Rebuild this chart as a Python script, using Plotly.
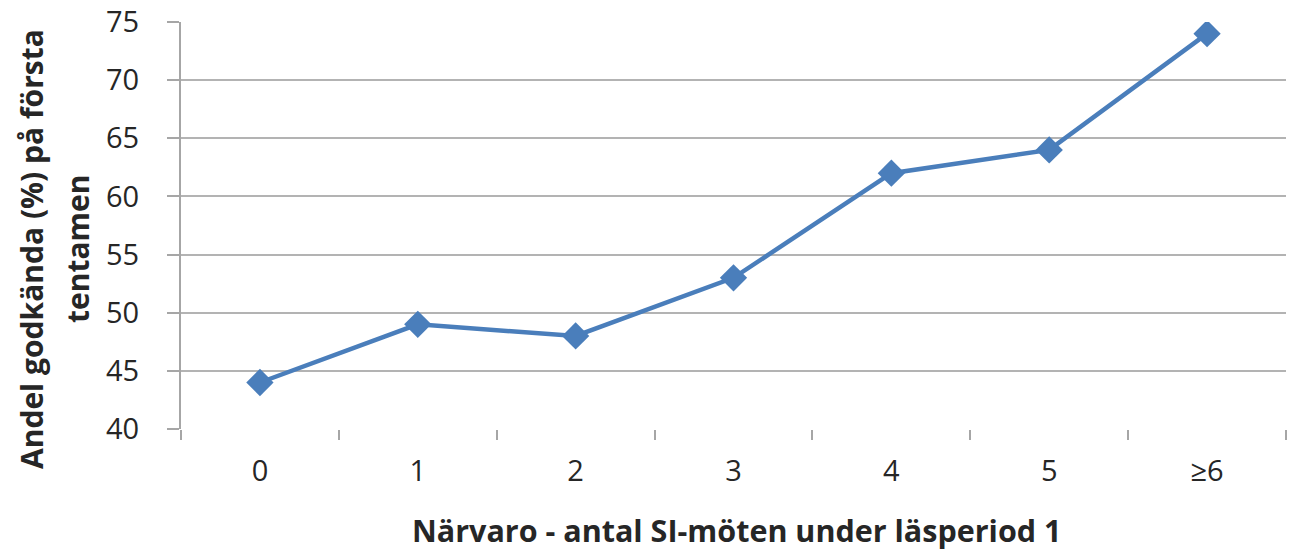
import plotly.graph_objects as go

categories = ["0", "1", "2", "3", "4", "5", "≥6"]
values = [44, 49, 48, 53, 62, 64, 74]
y_ticks = [40, 45, 50, 55, 60, 65, 70, 75]
x_title = "Närvaro - antal SI-möten under läsperiod 1"
y_title_line1 = "Andel godkända (%) på första"
y_title_line2 = "tentamen"

W, H = 1290, 551
L, R, T, B = 181, 4, 22, 122
PW, PH = W - L - R, H - T - B


def px(x_screen):
    return (x_screen - L) / PW


def py(y_screen):
    return (H - B - y_screen) / PH


fig = go.Figure()
fig.add_trace(go.Scatter(
    x=categories, y=values, mode="lines+markers",
    line=dict(color="#4A7EBB", width=4.5),
    marker=dict(symbol="diamond", size=21, color="#4A7EBB"),
    showlegend=False,
))

font_family = "Open Sans, Lato, sans-serif"
txt = "#262626"
fig.update_layout(
    width=W, height=H,
    margin=dict(l=L, r=R, t=T, b=B),
    paper_bgcolor="white", plot_bgcolor="white",
    font=dict(family=font_family, color=txt, size=24),
    xaxis=dict(
        type="category", tickson="boundaries", ticks="outside", ticklen=10,
        tickcolor="#A6A6A6", tickwidth=2, showgrid=False,
        showline=False, zeroline=False, automargin=False,
        tickfont=dict(size=29, color=txt), ticklabelstandoff=22,
        ticklabeloverflow="allow",
        range=[-0.5, 6.5],
    ),
    yaxis=dict(
        range=[40, 75], tickvals=y_ticks, ticks="outside", ticklen=12,
        tickcolor="#A6A6A6", tickwidth=2,
        showgrid=True, gridcolor="#B3B3B3", gridwidth=2,
        showline=True, linecolor="#A6A6A6", linewidth=2,
        zeroline=False, automargin=False,
        tickfont=dict(size=29, color=txt), ticklabelstandoff=22,
        ticklabeloverflow="allow",
    ),
    annotations=[
        dict(text="<b>" + x_title + "</b>", xref="paper", yref="paper",
             x=px(736), y=py(530),
             xanchor="center", yanchor="middle", showarrow=False,
             font=dict(size=30.5, color=txt)),
        dict(text="<b>" + y_title_line1 + "</b>", xref="paper", yref="paper",
             x=px(31), y=py(249),
             xanchor="center", yanchor="middle", showarrow=False,
             textangle=-90, font=dict(size=30, color=txt)),
        dict(text="<b>" + y_title_line2 + "</b>", xref="paper", yref="paper",
             x=px(77), y=py(249),
             xanchor="center", yanchor="middle", showarrow=False,
             textangle=-90, font=dict(size=30, color=txt)),
    ],
)

fig.write_html(
    "out.html",
    config={"displayModeBar": False},
    post_script="document.body.style.margin='0';document.body.style.overflow='hidden';",
)
